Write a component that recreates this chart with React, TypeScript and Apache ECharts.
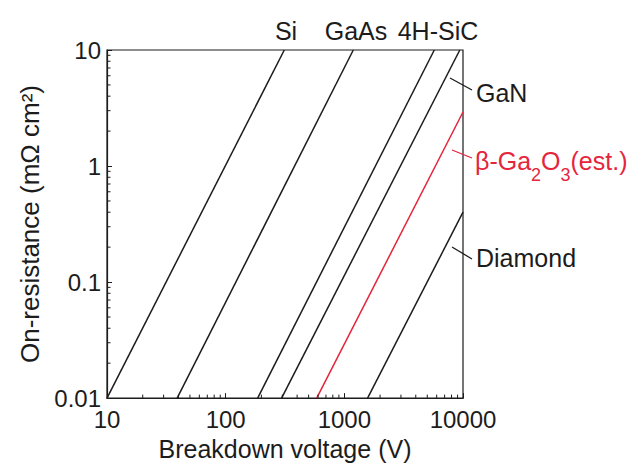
import React, { useEffect, useRef } from 'react';
import * as echarts from 'echarts';

const FONT = '"Liberation Sans", Arial, Helvetica, sans-serif';
const INK = '#1c1c1c';
const RED = '#e5253c';

const xTickLabels = ['10', '100', '1000', '10000'];
const yTickLabels = ['0.01', '0.1', '1', '10'];
const xMin = 10;
const xMax = 10000;
const yMin = 0.01;
const yMax = 10;

// Each line: [breakdown voltage (V), on-resistance (mΩ·cm²)] endpoints
const siLine = [[10, 0.01], [312, 10]];
const gaasLine = [[39, 0.01], [1190, 10]];
const sicLine = [[186, 0.01], [5730, 10]];
const ganLine = [[296, 0.01], [9400, 10]];
const ga2o3Line = [[585, 0.01], [10000, 2.92]];
const diamondLine = [[1570, 0.01], [10000, 0.4]];

const xMinorTicks = [
  20, 30, 40, 50, 60, 70, 80, 90,
  200, 300, 400, 500, 600, 700, 800, 900,
  2000, 3000, 4000, 5000, 6000, 7000, 8000, 9000,
];
const yMinorTicks = [
  0.02, 0.03, 0.04, 0.05, 0.06, 0.07, 0.08, 0.09,
  0.2, 0.3, 0.4, 0.5, 0.6, 0.7, 0.8, 0.9,
  2, 3, 4, 5, 6, 7, 8, 9,
];

const topLabels = ['Si', 'GaAs', '4H-SiC'];
const sideLabels = ['GaN', 'Diamond'];
const ga2o3Pieces = [
  { t: 'β-Ga', sub: false },
  { t: '2', sub: true },
  { t: 'O', sub: false },
  { t: '3', sub: true },
  { t: '(est.)', sub: false },
];

function tickLabel(labels: string[], min: number) {
  return (v: number) => {
    const i = Math.round(Math.log10(v) - Math.log10(min));
    return labels[i] ?? '';
  };
}

export default function App() {
  const ref = useRef<HTMLDivElement>(null);

  useEffect(() => {
    if (!ref.current) return;
    const chart = echarts.init(ref.current, undefined, { renderer: 'svg' });

    const canvas = document.createElement('canvas');
    const ctx = canvas.getContext('2d')!;
    const measure = (t: string, s: number) => {
      ctx.font = `${s}px ${FONT}`;
      return ctx.measureText(t).width;
    };

    const lineSeries = (data: number[][], color: string) => ({
      type: 'line',
      data,
      showSymbol: false,
      symbol: 'none',
      lineStyle: { color, width: 1.5 },
      silent: true,
      z: 3,
    });

    const tickSeries = (vals: number[], horizontal: boolean) => ({
      type: 'custom',
      coordinateSystem: 'cartesian2d',
      silent: true,
      clip: false,
      z: 6,
      data: vals.map((v) => (horizontal ? [v, yMin] : [xMin, v])),
      renderItem: (_p: any, api: any) => {
        const pt = api.coord([api.value(0), api.value(1)]);
        return {
          type: 'line',
          shape: horizontal
            ? { x1: pt[0], y1: pt[1], x2: pt[0], y2: pt[1] - 3.5 }
            : { x1: pt[0], y1: pt[1], x2: pt[0] + 3.5, y2: pt[1] },
          style: { stroke: INK, lineWidth: 1 },
        };
      },
    });

    // β-Ga2O3 label pieces
    const mainSize = 25;
    const subSize = 18;
    let gx = 475;
    const gaPieces: any[] = [];
    ga2o3Pieces.forEach((p) => {
      const size = p.sub ? subSize : mainSize;
      gaPieces.push({
        type: 'text',
        x: gx,
        y: p.sub ? 175 : 161,
        style: {
          text: p.t,
          fill: RED,
          fontSize: size,
          fontFamily: FONT,
          textAlign: 'left',
          textVerticalAlign: 'middle',
        },
      });
      gx += measure(p.t, size);
    });

    const topX = [286, 356, 438];

    chart.setOption({
      animation: false,
      backgroundColor: '#ffffff',
      grid: {
        left: 107,
        right: 172,
        top: 50,
        bottom: 61,
        show: true,
        borderColor: INK,
        borderWidth: 1.2,
        backgroundColor: 'transparent',
      },
      xAxis: {
        type: 'log',
        logBase: 10,
        min: xMin,
        max: xMax,
        name: 'Breakdown voltage (V)',
        nameLocation: 'middle',
        nameGap: 34,
        nameTextStyle: { fontSize: 25, color: INK, fontFamily: FONT },
        axisLine: { show: true, lineStyle: { color: INK, width: 1.2 } },
        axisTick: { show: true, inside: true, length: 5, lineStyle: { color: INK, width: 1 } },
        minorTick: { show: false },
        splitLine: { show: false },
        axisLabel: {
          fontSize: 24,
          color: INK,
          fontFamily: FONT,
          margin: 9,
          formatter: tickLabel(xTickLabels, xMin),
        },
      },
      yAxis: {
        type: 'log',
        logBase: 10,
        min: yMin,
        max: yMax,
        name: 'On-resistance (mΩ cm²)',
        nameLocation: 'middle',
        nameRotate: 90,
        nameGap: 64,
        nameTextStyle: { fontSize: 26, color: INK, fontFamily: FONT },
        axisLine: { show: true, lineStyle: { color: INK, width: 1.2 } },
        axisTick: { show: true, inside: true, length: 5, lineStyle: { color: INK, width: 1 } },
        minorTick: { show: false },
        splitLine: { show: false },
        axisLabel: {
          fontSize: 24,
          color: INK,
          fontFamily: FONT,
          margin: 6,
          formatter: tickLabel(yTickLabels, yMin),
        },
      },
      series: [
        lineSeries(siLine, INK),
        lineSeries(gaasLine, INK),
        lineSeries(sicLine, INK),
        lineSeries(ganLine, INK),
        lineSeries(ga2o3Line, RED),
        lineSeries(diamondLine, INK),
        tickSeries(xMinorTicks, true),
        tickSeries(yMinorTicks, false),
      ],
      graphic: [
        ...topLabels.map((t, i) => ({
          type: 'text',
          x: topX[i],
          y: 31,
          style: {
            text: t,
            fill: INK,
            fontSize: 25,
            fontFamily: FONT,
            textAlign: 'center',
            textVerticalAlign: 'middle',
          },
        })),
        {
          type: 'text',
          x: 476,
          y: 93,
          style: { text: sideLabels[0], fill: INK, fontSize: 25, fontFamily: FONT, textAlign: 'left', textVerticalAlign: 'middle' },
        },
        {
          type: 'text',
          x: 476,
          y: 258,
          style: { text: sideLabels[1], fill: INK, fontSize: 25, fontFamily: FONT, textAlign: 'left', textVerticalAlign: 'middle' },
        },
        ...gaPieces,
        { type: 'line', shape: { x1: 450, y1: 78, x2: 472, y2: 90 }, style: { stroke: INK, lineWidth: 1.3 } },
        { type: 'line', shape: { x1: 452, y1: 150, x2: 472, y2: 158 }, style: { stroke: RED, lineWidth: 1.3 } },
        { type: 'line', shape: { x1: 452, y1: 247, x2: 472, y2: 259 }, style: { stroke: INK, lineWidth: 1.3 } },
      ],
    });

    return () => chart.dispose();
  }, []);

  return (
    <div
      ref={ref}
      style={{ position: 'absolute', left: 0, top: 0, width: 635, height: 466 }}
    />
  );
}
